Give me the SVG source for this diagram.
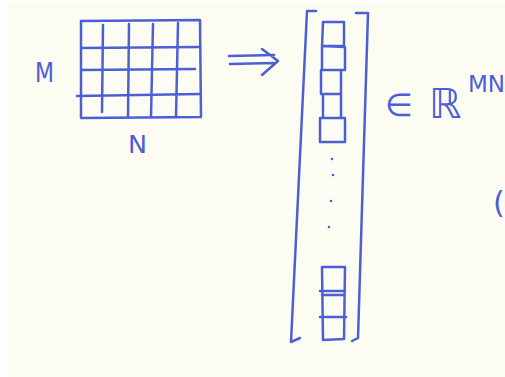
<svg xmlns="http://www.w3.org/2000/svg" width="505" height="377" viewBox="0 0 505 377">
<style>
.pen{fill:none;stroke:#4c5fd6;stroke-width:2.5;stroke-linecap:round;stroke-linejoin:round}
.lbl{fill:#4c5fd6;font-family:"DejaVu Sans","Liberation Sans",sans-serif}
</style>
<rect width="505" height="377" fill="#ffffff"/>
<rect x="7" y="3" width="498" height="374" fill="#fdfcf3"/>
<g id="matrix">
<path class="pen" d="M81 21 L200 20 L201 117 L81 118 Z"/>
<path class="pen" d="M81 48 L200 47 M81 70 L195 69 M77 96 L200 94"/>
<path class="pen" d="M103 25 L102 112 M129 24 L128 117 M153 24 L151 117 M178 23 L176 117"/>
</g>
<g id="label-M"><text class="lbl" x="35" y="82" font-size="27" textLength="19" lengthAdjust="spacingAndGlyphs">M</text></g>
<g id="label-N"><text class="lbl" x="128" y="153" font-size="25" textLength="19" lengthAdjust="spacingAndGlyphs">N</text></g>
<g id="connectors">
<path class="pen" d="M229 56 L274 55 M230 64 L274 63 M262 49 L278 61 L262 75"/>
</g>
<g id="vector">
<path class="pen" d="M316 11 L307 11 L291 342 L300 338"/>
<path class="pen" d="M356 13 L368 13 L358 338 L352 341"/>
<path class="pen" d="M323 22 L344 22 L344 46 L322 46 Z M322 46 L345 47 L345 70 L322 70 Z M321 70 L341 70 L341 94 L321 94 Z M323 94 L341 94 L341 118 L323 118 Z M320 118 L345 118 L345 142 L320 142 Z"/>
<path class="pen" d="M322 267 L345 267 L344 339 L323 340 Z M320 291 L345 291 M322 295 L343 295 M320 317 L346 317"/>
<g fill="#4c5fd6"><circle cx="332" cy="159" r="1.3"/><circle cx="333" cy="175" r="1.3"/><circle cx="331" cy="201" r="1.3"/><circle cx="329" cy="227" r="1.3"/></g>
</g>
<g id="space">
<text class="lbl" x="385" y="116" font-size="32">∈</text>
<text class="lbl" x="429" y="118" font-size="41">ℝ</text>
<text class="lbl" x="468" y="92" font-size="23">MN</text>
<text class="lbl" x="493" y="213" font-size="30">(</text>
</g>
</svg>
